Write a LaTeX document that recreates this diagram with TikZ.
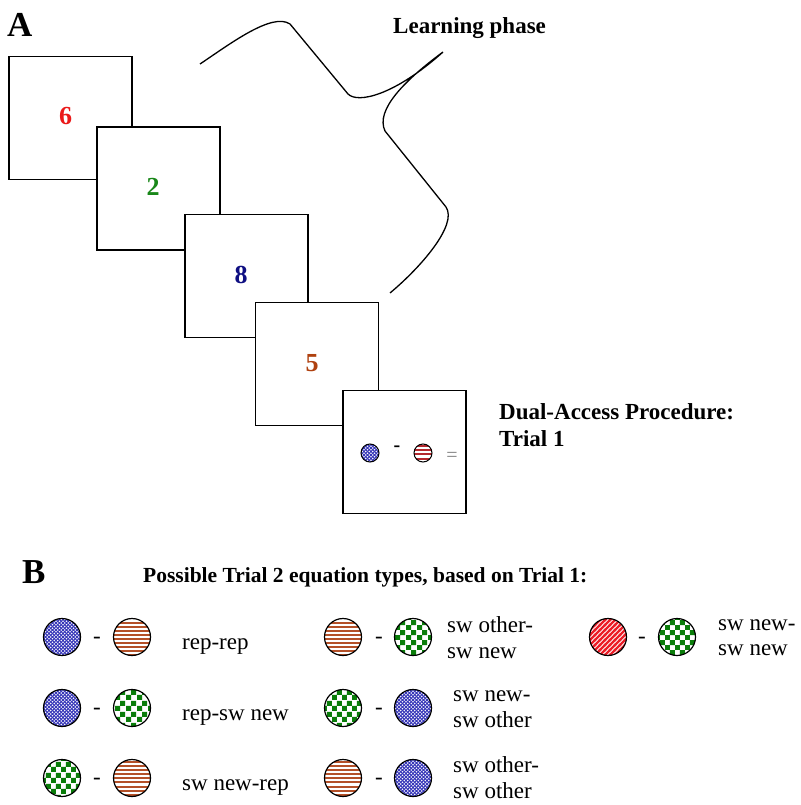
\documentclass[tikz,border=0pt]{standalone}
\usepackage{fontspec}
\setmainfont{Liberation Serif}
\usetikzlibrary{patterns.meta}

\definecolor{numred}{RGB}{235,25,25}
\definecolor{numgreen}{RGB}{25,135,25}
\definecolor{numnavy}{RGB}{15,15,130}
\definecolor{numbrown}{RGB}{175,65,15}
\definecolor{stripeor}{RGB}{180,80,40}
\definecolor{stripered}{RGB}{180,40,45}
\definecolor{hatchblue}{RGB}{55,55,185}
\definecolor{chkgreen}{RGB}{10,125,10}
\definecolor{diagred}{RGB}{235,30,40}

\tikzdeclarepattern{name=hstripes, type=uncolored,
  bounding box={(-1pt,-1pt) and (5.1pt,5.1pt)}, tile size={(4.1pt,4.1pt)},
  code={\draw[line width=2pt] (-1pt,2pt) -- (5.1pt,2pt);}}
\tikzdeclarepattern{name=xhatch, type=uncolored,
  bounding box={(-1pt,-1pt) and (4.5pt,4.5pt)}, tile size={(3.5pt,3.5pt)},
  code={\draw[line width=0.9pt] (-0.5pt,-0.5pt) -- (4pt,4pt) (-0.5pt,4pt) -- (4pt,-0.5pt);}}
\tikzdeclarepattern{name=dstripes, type=uncolored,
  bounding box={(-2pt,-2pt) and (7pt,7pt)}, tile size={(5pt,5pt)},
  code={\draw[line width=2.2pt] (-1pt,-1pt) -- (6pt,6pt);}}
\tikzdeclarepattern{name=checker, type=uncolored,
  bounding box={(0pt,0pt) and (10.4pt,10.4pt)}, tile size={(10.4pt,10.4pt)},
  code={\fill (0pt,0pt) rectangle (5.2pt,5.2pt) (5.2pt,5.2pt) rectangle (10.4pt,10.4pt);}}

\tikzset{
  card/.style={draw, line width=1.3pt, fill=white, minimum size=123pt, inner sep=0pt},
  num/.style={font=\fontsize{26}{30}\selectfont\bfseries, inner sep=0pt},
  disc/.style={circle, draw, line width=1.2pt, minimum size=37pt, inner sep=0pt},
  smalldisc/.style={circle, draw, line width=1pt, minimum size=18pt, inner sep=0pt},
  bluep/.style={preaction={fill=white}, pattern={xhatch}, pattern color=hatchblue},
  orangep/.style={preaction={fill=white}, pattern={hstripes}, pattern color=stripeor},
  redhp/.style={preaction={fill=white}, pattern={hstripes}, pattern color=stripered},
  greenp/.style={preaction={fill=white}, pattern={checker}, pattern color=chkgreen},
  reddp/.style={preaction={fill=white}, pattern={dstripes}, pattern color=diagred},
  lbl/.style={font=\fontsize{23}{26}\selectfont, anchor=base west, inner sep=0pt},
  blbl/.style={font=\fontsize{23}{26}\selectfont\bfseries, anchor=base west, inner sep=0pt},
  minus/.style={font=\fontsize{23}{26}\selectfont, inner sep=0pt},
  panel/.style={font=\fontsize{35}{40}\selectfont\bfseries, anchor=base west, inner sep=0pt}
}

\begin{document}
\begin{tikzpicture}[x=1pt,y=-1pt]
\useasboundingbox (0,0) rectangle (800,805);

% Part A
\node[panel] (A) at (7,37) {A};
\node[blbl] (learn) at (393,34) {Learning phase};

\draw[line width=1.3pt] (200,64) .. controls (230,44) and (272,12) .. (290,24)
  -- (348,94) .. controls (358,104) and (395,95) .. (443,52)
  .. controls (405,80) and (375,110) .. (385,131)
  -- (446,207) .. controls (458,225) and (420,268) .. (390,293);

\node[card] (b1) at (70.5,118) {};
\node[num, text=numred] (n1) at (65.5,116) {6};
\node[card] (b2) at (158.5,188.5) {};
\node[num, text=numgreen] (n2) at (153,187) {2};
\node[card] (b3) at (246.5,276) {};
\node[num, text=numnavy] (n3) at (241,275) {8};
\node[card] (b4) at (317,364) {};
\node[num, text=numbrown] (n4) at (312,363) {5};
\node[card] (b5) at (404.5,452) {};
\node[smalldisc, bluep] (t1a) at (370,453) {};
\node[font=\fontsize{20}{24}\selectfont\bfseries, inner sep=0pt] (t1m) at (397,449) {-};
\node[smalldisc, redhp] (t1b) at (423,453) {};
\node[font=\fontsize{20}{24}\selectfont, text=gray, inner sep=0pt] (t1e) at (452,457) {=};

\node[blbl] (dap1) at (499,419) {Dual-Access Procedure:};
\node[blbl] (dap2) at (499,446) {Trial 1};

% Part B
\node[panel] (B) at (22,583) {B};
\node[blbl, font=\fontsize{21.5}{25}\selectfont\bfseries] (title) at (143,582) {Possible Trial 2 equation types, based on Trial 1:};

% column 1
\node[disc, bluep] (r1a) at (62,637) {};
\node[minus] (r1m) at (97,640) {-};
\node[disc, orangep] (r1b) at (132,637) {};
\node[lbl] (r1t) at (182,649) {rep-rep};

\node[disc, bluep] (r2a) at (62,708) {};
\node[minus] (r2m) at (97,711) {-};
\node[disc, greenp] (r2b) at (132,708) {};
\node[lbl] (r2t) at (182,720) {rep-sw new};

\node[disc, greenp] (r3a) at (62,778) {};
\node[minus] (r3m) at (97,781) {-};
\node[disc, orangep] (r3b) at (132,778) {};
\node[lbl] (r3t) at (182,790) {sw new-rep};

% column 2
\node[disc, orangep] (s1a) at (343,637) {};
\node[minus] (s1m) at (379,640) {-};
\node[disc, greenp] (s1b) at (413,637) {};
\node[lbl] (s1t) at (447,632) {sw other-};
\node[lbl] (s1u) at (447,658) {sw new};

\node[disc, greenp] (s2a) at (343,708) {};
\node[minus] (s2m) at (379,711) {-};
\node[disc, bluep] (s2b) at (413,708) {};
\node[lbl] (s2t) at (453,701) {sw new-};
\node[lbl] (s2u) at (453,727) {sw other};

\node[disc, orangep] (s3a) at (343,778) {};
\node[minus] (s3m) at (379,781) {-};
\node[disc, bluep] (s3b) at (413,778) {};
\node[lbl] (s3t) at (453,772) {sw other-};
\node[lbl] (s3u) at (453,798) {sw other};

% column 3
\node[disc, reddp] (u1a) at (608,637) {};
\node[minus] (u1m) at (642,640) {-};
\node[disc, greenp] (u1b) at (677,637) {};
\node[lbl] (u1t) at (718,630) {sw new-};
\node[lbl] (u1u) at (718,655) {sw new};
\end{tikzpicture}
\end{document}
